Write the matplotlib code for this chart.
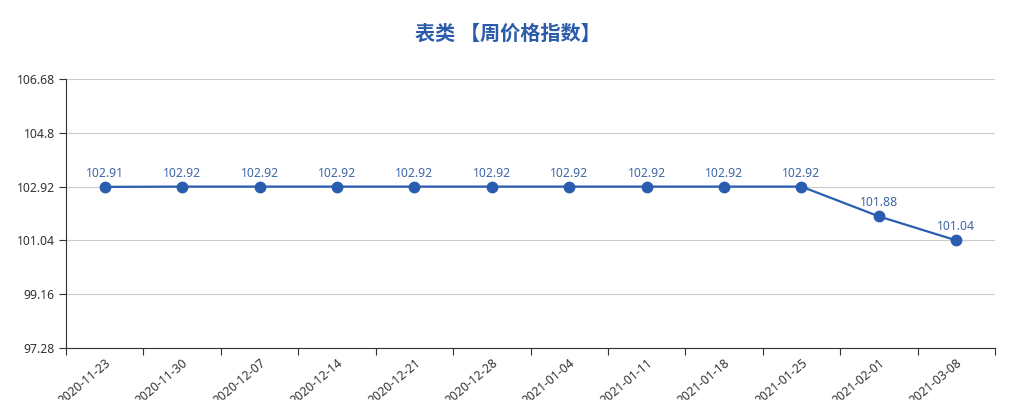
import matplotlib.pyplot as plt

dates = ['2020-11-23', '2020-11-30', '2020-12-07', '2020-12-14', '2020-12-21', '2020-12-28',
         '2021-01-04', '2021-01-11', '2021-01-18', '2021-01-25', '2021-02-01', '2021-03-08']
values = [102.91, 102.92, 102.92, 102.92, 102.92, 102.92,
          102.92, 102.92, 102.92, 102.92, 101.88, 101.04]
y_ticks = [97.28, 99.16, 101.04, 102.92, 104.8, 106.68]

plt.rcParams['font.family'] = ['Noto Sans', 'Noto Sans CJK SC', 'DejaVu Sans']

line_color = '#2a5db0'

fig = plt.figure(figsize=(10.15, 4), dpi=100)
ax = fig.add_axes([66 / 1015, 52 / 400, 929 / 1015, 269 / 400])

x = [i + 0.5 for i in range(len(dates))]
ax.plot(x, values, color=line_color, linewidth=1.6, marker='o', markersize=7.5, zorder=3)
for xi, v in zip(x, values):
    ax.annotate(f'{v:.2f}', xy=(xi, v), xytext=(0, 5), textcoords='offset points',
                ha='center', va='bottom', fontsize=8.8, color='#3e66a8')

ax.set_xlim(0, len(dates))
ax.set_ylim(y_ticks[0], y_ticks[-1])
ax.set_yticks(y_ticks)
ax.set_yticklabels([f'{t:g}' for t in y_ticks])
ax.set_xticks(range(len(dates) + 1))
ax.set_xticklabels([])
ax.set_xticks(x, minor=True)
ax.set_xticklabels(dates, minor=True, rotation=40, ha='right', rotation_mode='anchor')
ax.tick_params(axis='x', which='minor', length=0, pad=6)
ax.tick_params(axis='x', which='major', length=5, color='#333333')
ax.tick_params(axis='y', length=5, color='#333333', pad=3)
ax.tick_params(labelsize=8.8, labelcolor='#333333', which='both')

ax.grid(axis='y', color='#cccccc', linewidth=0.8)
ax.set_axisbelow(True)
for s in ['top', 'right']:
    ax.spines[s].set_visible(False)
for s in ['left', 'bottom']:
    ax.spines[s].set_color('#333333')

fig.text(0.5, 1 - 33 / 400, '表类 【周价格指数】', ha='center', va='center',
         fontsize=14.5, fontweight='bold', color='#2a5caa', family=['Noto Sans CJK SC', 'DejaVu Sans'])

fig.savefig('out.png', dpi=100)
